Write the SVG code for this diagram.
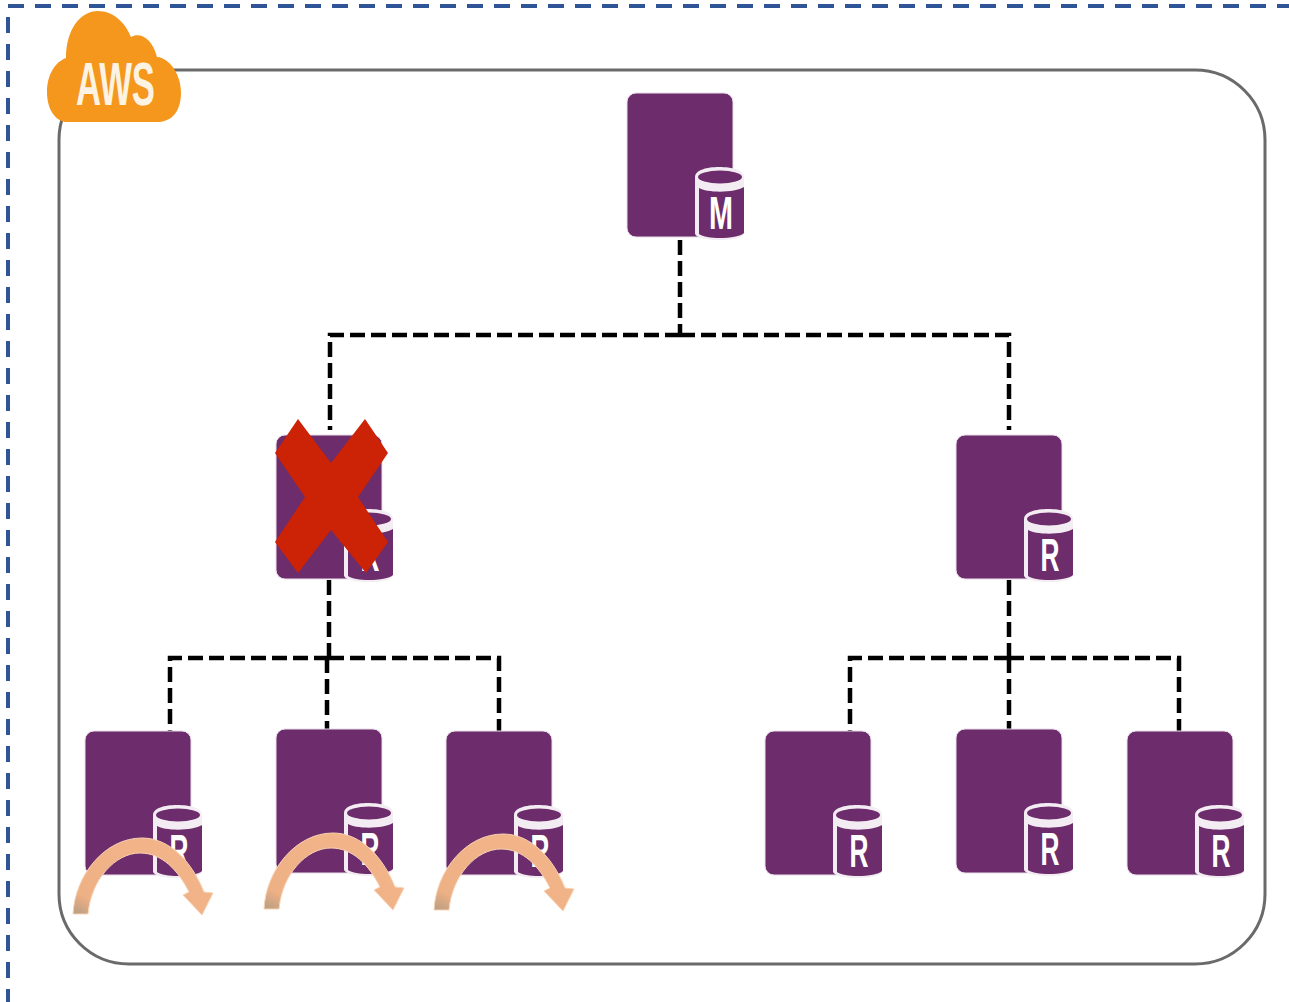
<svg xmlns="http://www.w3.org/2000/svg" width="1289" height="1002" viewBox="0 0 1289 1002">
<style>
.frame{fill:none;stroke:#2f5597;stroke-width:4;stroke-dasharray:16 11}
.box{fill:#fff;stroke:#6a6a6a;stroke-width:3}
.conn{fill:none;stroke:#000;stroke-width:4.5;stroke-dasharray:15 6}
.inst{fill:#6d2c6b;stroke:#e9deea;stroke-width:1}
.rim{fill:#f3edf3}
.db{fill:#6d2c6b}
.lbl{font-family:"Liberation Sans",Arial,sans-serif;font-weight:700;font-size:46px;fill:#fff;text-anchor:middle}
.aws{font-family:"Liberation Sans",Arial,sans-serif;font-weight:700;font-size:61px;fill:#fdf3e3}
</style>
<defs>
<linearGradient id="arc" x1="0" y1="1" x2="1" y2="0">
<stop offset="0" stop-color="#b59c82"/><stop offset="0.16" stop-color="#eeb085"/><stop offset="1" stop-color="#f3b589"/>
</linearGradient>
<g id="instance">
<rect class="inst" x="0" y="0" width="106" height="144" rx="9"/>
<path class="rim" d="M68 84C68 77 80 74 92 74C105 74 117 77 117 84V140C117 145 105 147 92 147C80 147 68 145 68 140Z"/>
<ellipse class="db" cx="93" cy="84" rx="22" ry="6.5"/>
<path class="db" d="M72 95C80 100 108 100 117 94V140C111 146 80 147 72 141Z"/>
</g>
<path id="curve" d="M73 914C75 875 105 838 142 838C170 838 192 862 204 892L213 893L202 915L183 895L189 892C178 870 162 853 140 853C115 853 91 880 88 914Z" fill="url(#arc)" stroke="#f8d3b5" stroke-width="1"/>
</defs>
<rect id="page" width="1289" height="1002" fill="#fff"/>
<path id="frame" class="frame" d="M8 6H1289M8 17V1002"/>
<rect id="container" class="box" x="59" y="70" width="1206" height="894" rx="70"/>
<g id="aws">
<path d="M65 122C52 119 47 105 47 92C47 75 55 62 66 58C66 30 80 11 98 11C113 11 125 22 131 37C140 32 152 38 157 57C170 58 181 75 181 92C181 108 175 120 160 122Z" fill="#f5971d"/>
<text class="aws" x="76" y="105" textLength="79" lengthAdjust="spacingAndGlyphs">AWS</text>
</g>
<g id="connectors">
<path class="conn" d="M680 240V335M680 335H330V430M680 335H1009V430"/>
<path class="conn" d="M329 580V658M329 658H170V731M327 658V729M329 658H499V731"/>
<path class="conn" d="M1009 580V658M1009 658H850V731M1009 658V729M1009 658H1179V731"/>
</g>
<g id="node-master" transform="translate(627 93)"><use href="#instance"/><text class="lbl" x="94" y="136" textLength="24" lengthAdjust="spacingAndGlyphs">M</text></g>
<g id="node-replica-left" transform="translate(276 435)"><use href="#instance"/><text class="lbl" x="94" y="136" textLength="19" lengthAdjust="spacingAndGlyphs">R</text></g>
<g id="node-replica-right" transform="translate(956 435)"><use href="#instance"/><text class="lbl" x="94" y="136" textLength="19" lengthAdjust="spacingAndGlyphs">R</text></g>
<g id="node-l1" transform="translate(85 731)"><use href="#instance"/><text class="lbl" x="94" y="136" textLength="19" lengthAdjust="spacingAndGlyphs">R</text></g>
<g id="node-l2" transform="translate(276 729)"><use href="#instance"/><text class="lbl" x="94" y="136" textLength="19" lengthAdjust="spacingAndGlyphs">R</text></g>
<g id="node-l3" transform="translate(446 731)"><use href="#instance"/><text class="lbl" x="94" y="136" textLength="19" lengthAdjust="spacingAndGlyphs">R</text></g>
<g id="node-r1" transform="translate(765 731)"><use href="#instance"/><text class="lbl" x="94" y="136" textLength="19" lengthAdjust="spacingAndGlyphs">R</text></g>
<g id="node-r2" transform="translate(956 729)"><use href="#instance"/><text class="lbl" x="94" y="136" textLength="19" lengthAdjust="spacingAndGlyphs">R</text></g>
<g id="node-r3" transform="translate(1127 731)"><use href="#instance"/><text class="lbl" x="94" y="136" textLength="19" lengthAdjust="spacingAndGlyphs">R</text></g>
<polygon id="cross" fill="#cc2205" points="298,419 331,463 365,419 388,453 358,497 388,542 366,573 331,530 298,573 275,542 305,497 275,453"/>
<g id="arrows">
<use href="#curve"/>
<use href="#curve" transform="translate(191 -5)"/>
<use href="#curve" transform="translate(361 -4)"/>
</g>
</svg>
